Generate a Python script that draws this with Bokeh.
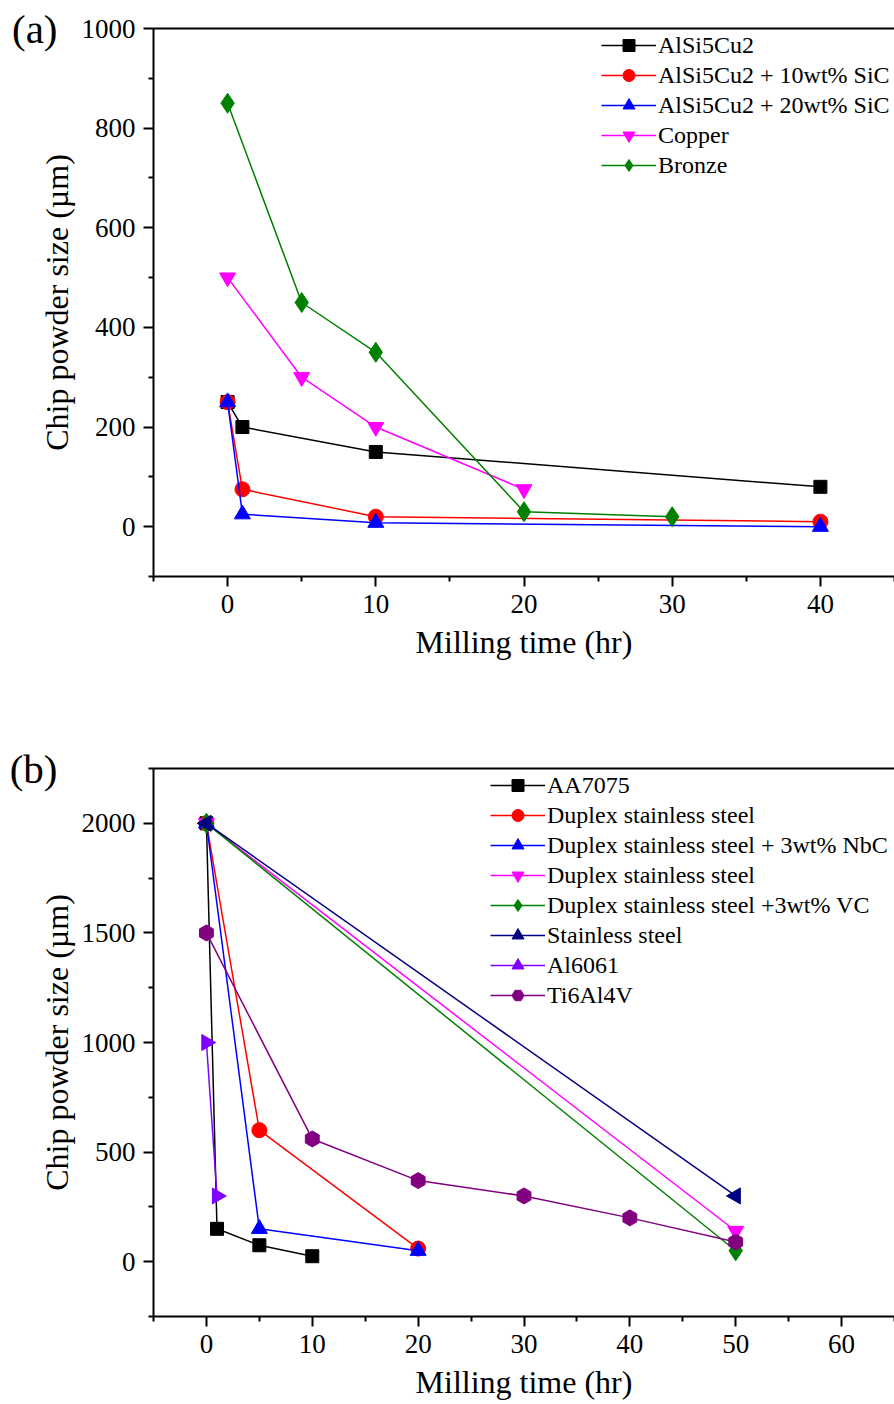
import math
from bokeh.plotting import figure
from bokeh.layouts import column
from bokeh.models import Range1d, FixedTicker, LinearAxis, Legend, LegendItem
from bokeh.embed import file_html
from bokeh.resources import INLINE

FONT = "Liberation Serif"

# ---------------- panel (a) data ----------------
a_names = ["AlSi5Cu2", "AlSi5Cu2 + 10wt% SiC", "AlSi5Cu2 + 20wt% SiC", "Copper", "Bronze"]
a_alsi_t = [0, 1, 10, 40]
a_alsi_s = [250, 200, 150, 80]
a_sic10_t = [0, 1, 10, 40]
a_sic10_s = [250, 75, 20, 10]
a_sic20_t = [0, 1, 10, 40]
a_sic20_s = [250, 25, 8, 0]
a_cu_t = [0, 5, 10, 20]
a_cu_s = [500, 300, 200, 75]
a_br_t = [0, 5, 10, 20, 30]
a_br_s = [850, 450, 350, 30, 20]

# ---------------- panel (b) data ----------------
b_names = ["AA7075", "Duplex stainless steel", "Duplex stainless steel + 3wt% NbC",
           "Duplex stainless steel", "Duplex stainless steel +3wt% VC",
           "Stainless steel", "Al6061", "Ti6Al4V"]
b_aa_t = [0, 1, 5, 10]
b_aa_s = [2000, 150, 75, 25]
b_dss_t = [0, 5, 20]
b_dss_s = [2000, 600, 60]
b_nbc_t = [0, 5, 20]
b_nbc_s = [2000, 150, 50]
b_dss2_t = [0, 50]
b_dss2_s = [2000, 140]
b_vc_t = [0, 50]
b_vc_s = [2000, 50]
b_ss_t = [0, 50]
b_ss_s = [2000, 300]
b_al_t = [0, 1]
b_al_s = [1000, 300]
b_ti_t = [0, 10, 20, 30, 40, 50]
b_ti_s = [1500, 560, 370, 300, 200, 90]


def style_axes(p, xticks, xminor, yticks, yminor, xlabel, ylabel):
    p.xaxis.ticker = FixedTicker(ticks=xticks, minor_ticks=xminor)
    p.yaxis.ticker = FixedTicker(ticks=yticks, minor_ticks=yminor)
    p.xaxis.axis_label = xlabel
    p.yaxis.axis_label = ylabel
    for ax in (p.xaxis[0], p.yaxis[0]):
        ax.axis_line_width = 2
        ax.axis_line_color = "black"
        ax.major_tick_line_width = 2
        ax.minor_tick_line_width = 2
        ax.major_tick_out = 10
        ax.major_tick_in = 0
        ax.minor_tick_out = 5
        ax.minor_tick_in = 0
        ax.major_label_text_font = FONT
        ax.major_label_text_font_size = "27px"
        ax.major_label_text_color = "black"
        ax.major_label_standoff = 8
        ax.axis_label_text_font = FONT
        ax.axis_label_text_font_size = "32px"
        ax.axis_label_text_font_style = "normal"
        ax.axis_label_text_color = "black"
    p.yaxis.axis_label_standoff = 4
    p.xaxis.axis_label_standoff = 8
    top = LinearAxis(ticker=FixedTicker(ticks=[]), axis_line_width=2,
                     major_tick_line_color=None, minor_tick_line_color=None,
                     major_label_text_color=None)
    p.add_layout(top, "above")
    p.xgrid.visible = False
    p.ygrid.visible = False
    p.outline_line_color = None


def panel_tag(p, ypos, text):
    # an extra, line-less left axis carrying the panel letter as its only tick label
    tag = LinearAxis(ticker=FixedTicker(ticks=[ypos], minor_ticks=[]),
                     major_label_overrides={ypos: text},
                     axis_line_color=None, major_tick_line_color=None,
                     minor_tick_line_color=None, major_tick_out=0, major_tick_in=0,
                     major_label_standoff=-22,
                     major_label_text_font=FONT, major_label_text_font_size="41px",
                     major_label_text_color="black")
    p.add_layout(tag, "left")


def add_series(p, t, s, color, marker, size, angle=0.0):
    lr = p.line(t, s, line_color=color, line_width=1.5)
    sr = p.scatter(t, s, marker=marker, size=size, fill_color=color,
                   line_color=color, angle=angle)
    return [lr, sr]


def make_legend(p, names, rends, loc):
    items = [LegendItem(label=n, renderers=r) for n, r in zip(names, rends)]
    lg = Legend(items=items, location=loc, glyph_width=55, glyph_height=30,
                label_height=30, label_standoff=2, spacing=0, padding=0, margin=0,
                border_line_color=None, background_fill_alpha=0,
                label_text_font=FONT, label_text_font_size="24px",
                label_text_color="black")
    p.add_layout(lg)


# ---------------- figure (a) ----------------
pa = figure(width=894, height=700, output_backend="svg", toolbar_location=None,
            x_range=Range1d(-5, 45), y_range=Range1d(-100, 1000),
            min_border_left=153, min_border_right=0, min_border_top=28,
            min_border_bottom=124)
style_axes(pa, [0, 10, 20, 30, 40], [-5, 5, 15, 25, 35, 45],
           [0, 200, 400, 600, 800, 1000], [-100, 100, 300, 500, 700, 900],
           "Milling time (hr)", "Chip powder size (µm)")
panel_tag(pa, 1000, "(a)")

ra = [
    add_series(pa, a_alsi_t, a_alsi_s, "#000000", "square", 13),
    add_series(pa, a_sic10_t, a_sic10_s, "#ff0000", "circle", 15),
    add_series(pa, a_sic20_t, a_sic20_s, "#0000ff", "triangle", 16),
    add_series(pa, a_cu_t, a_cu_s, "#ff00ff", "inverted_triangle", 16),
    add_series(pa, a_br_t, a_br_s, "#008000", "diamond", 20),
]
make_legend(pa, a_names, ra, (448, 396))

# ---------------- figure (b) ----------------
pb = figure(width=894, height=704, output_backend="svg", toolbar_location=None,
            x_range=Range1d(-5, 65), y_range=Range1d(-250, 2250),
            min_border_left=153, min_border_right=0, min_border_top=68,
            min_border_bottom=88)
style_axes(pb, [0, 10, 20, 30, 40, 50, 60], [-5, 5, 15, 25, 35, 45, 55, 65],
           [0, 500, 1000, 1500, 2000], [-250, 250, 750, 1250, 1750, 2250],
           "Milling time (hr)", "Chip powder size (µm)")
panel_tag(pb, 2250, "(b)")

rb = [
    add_series(pb, b_aa_t, b_aa_s, "#000000", "square", 13),
    add_series(pb, b_dss_t, b_dss_s, "#ff0000", "circle", 15),
    add_series(pb, b_nbc_t, b_nbc_s, "#0000ff", "triangle", 16),
    add_series(pb, b_dss2_t, b_dss2_s, "#ff00ff", "inverted_triangle", 16),
    add_series(pb, b_vc_t, b_vc_s, "#008000", "diamond", 20),
    add_series(pb, b_ss_t, b_ss_s, "#000080", "triangle", 16, angle=math.pi / 2),
    add_series(pb, b_al_t, b_al_s, "#8000ff", "triangle", 16, angle=-math.pi / 2),
    add_series(pb, b_ti_t, b_ti_s, "#800080", "hex", 16, angle=math.pi / 2),
]
make_legend(pb, b_names, rb, (337, 306))

layout = column(pa, pb, spacing=0)
open("out.html", "w").write(file_html(layout, INLINE))
